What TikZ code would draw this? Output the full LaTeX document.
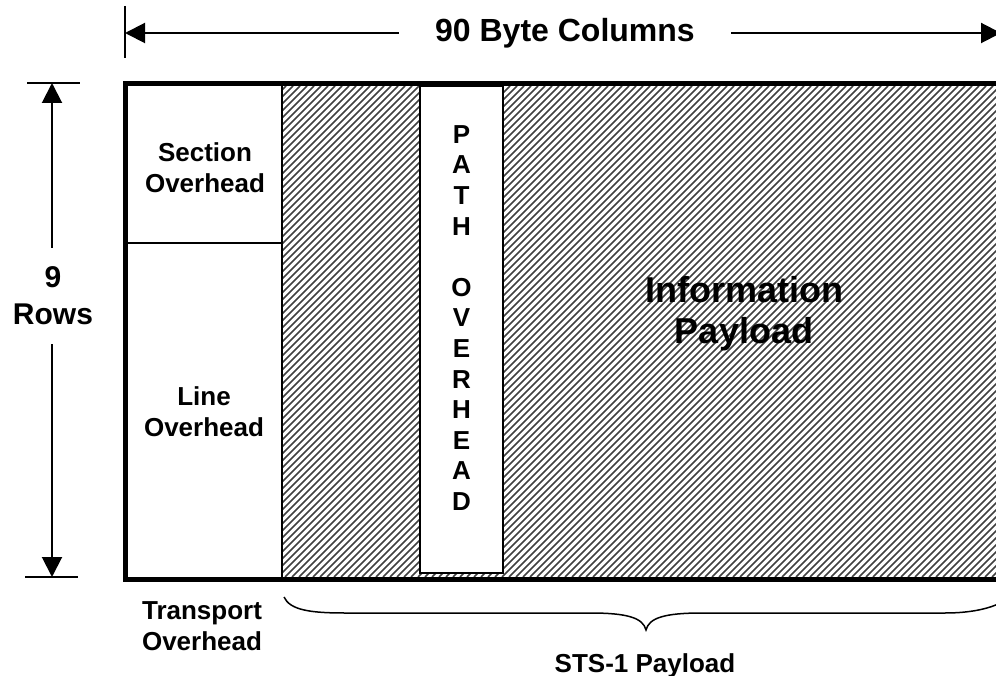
\documentclass[tikz,border=0pt]{standalone}
\usepackage{fontspec}
\setmainfont{Liberation Sans}
\usetikzlibrary{arrows.meta}
\begin{document}
\begin{tikzpicture}[x=1pt,y=-1pt,
  lbl/.style={font=\bfseries\fontsize{26}{31}\selectfont, align=center, inner sep=0pt},
  pathtxt/.style={font=\bfseries\fontsize{26}{30.6}\selectfont, align=center, inner sep=0pt},
  infotxt/.style={font=\bfseries\fontsize{36}{41}\selectfont, align=center, inner sep=0pt},
  titletxt/.style={font=\bfseries\fontsize{32}{38}\selectfont, inner xsep=36pt, inner ysep=0pt},
  rowstxt/.style={font=\bfseries\fontsize{30}{37}\selectfont, align=center, inner xsep=0pt, inner ysep=19pt},
  dim/.style={line width=2pt, -{Triangle[length=20pt,width=20pt]}},
  tickln/.style={line width=2pt},
  framebox/.style={line width=5pt},
  thinln/.style={line width=1.5pt},
  hatchln/.style={line width=1.7pt, black!75},
  bracestyle/.style={line width=1.5pt},
]
\useasboundingbox (0,0) rectangle (996,676);
\clip (0,0) rectangle (996,676);

% hatching of the payload area
\begin{scope}
  \clip (283,86) rectangle (1010,577);
  \foreach \a in {-212,-205,...,1010}
    \draw[hatchln] (\a,577) -- ++(491,-491);
\end{scope}

% path overhead column
\draw[thinln, fill=white] (420,86) rectangle (503,573);

% transport overhead dividers
\draw[thinln] (282,86) -- (282,577);
\draw[thinln] (128,243) -- (282,243);

% outer frame
\draw[framebox] (125.5,83.5) rectangle (1015,579.5);

% labels inside
\node[lbl] (sec) at (205,168) {Section\\Overhead};
\node[lbl] (lineoh) at (204,412) {Line\\Overhead};
\node[pathtxt] (pathoh) at (461.5,318) {P\\A\\T\\H\\\mbox{}\\O\\V\\E\\R\\H\\E\\A\\D};
\node[infotxt] (info) at (744,314) {Information\\Payload};

% top dimension
\coordinate (tl) at (125,33);
\coordinate (tr) at (1001,33);
\draw[tickln] (125,6) -- (125,58);
\node[titletxt, anchor=base] (title) at (565,42) {90 Byte Columns};
\draw[dim] (title.west |- tl) -- (tl);
\draw[dim] (title.east |- tr) -- (tr);

% left dimension
\coordinate (rt) at (52,83);
\coordinate (rb) at (52,577);
\draw[tickln] (27,83) -- (80,83);
\draw[tickln] (25,577) -- (78,577);
\node[rowstxt] (rows) at (53,296) {9\\Rows};
\draw[dim] (rows.north -| rt) -- (rt);
\draw[dim] (rows.south -| rb) -- (rb);

% bottom labels
\node[lbl] (trans) at (202,626) {Transport\\Overhead};
\coordinate (bl) at (284,597);
\coordinate (btip) at (646,630);
\coordinate (br) at (1010,597);
\draw[bracestyle] (bl) .. controls (290,610) and (310,613) .. (345,613)
  -- (590,613) .. controls (628,613) and (643,618) .. (btip)
  .. controls (649,618) and (664,613) .. (702,613)
  -- (945,613) .. controls (980,613) and (1000,605) .. (br);
\node[lbl, anchor=base] (sts) at (645,672) {STS-1 Payload};
\end{tikzpicture}
\end{document}
